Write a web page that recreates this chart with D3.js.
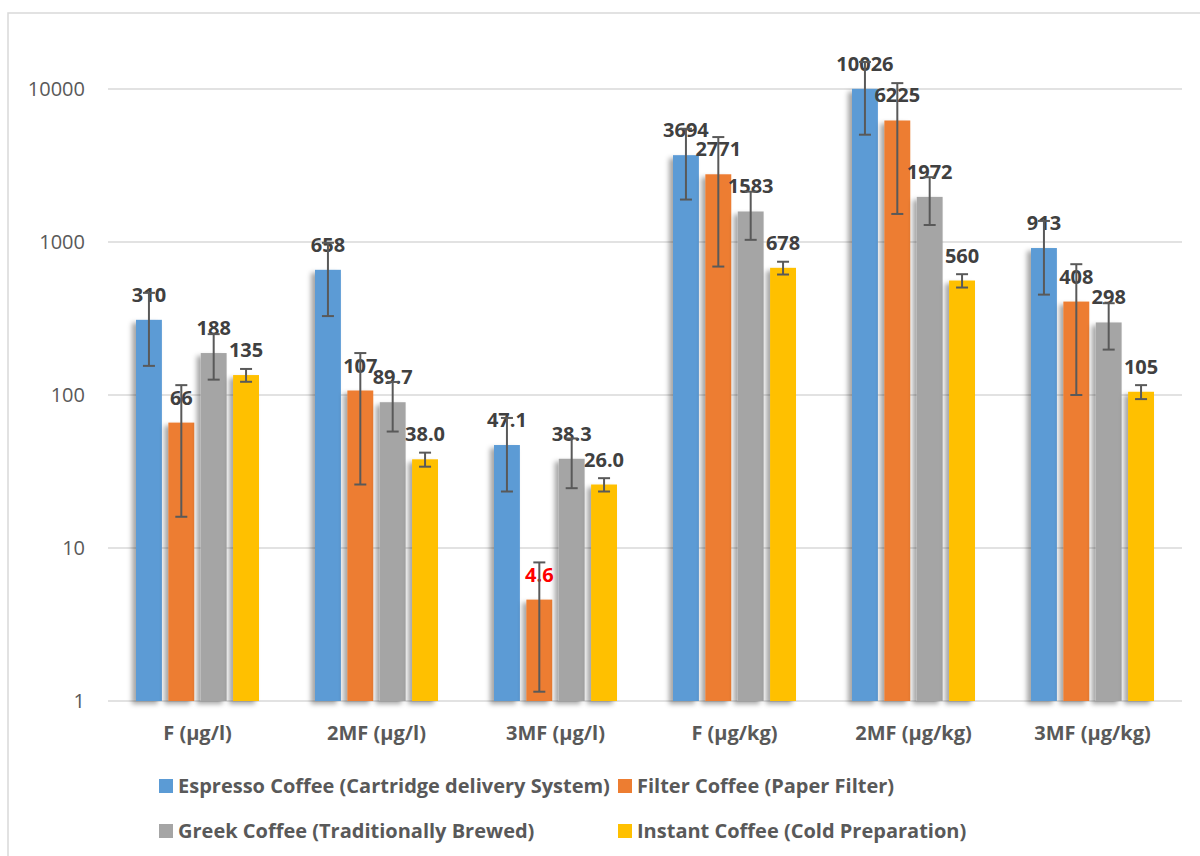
<!DOCTYPE html>
<html>
<head>
<meta charset="utf-8">
<script src="https://cdn.jsdelivr.net/npm/d3@7"></script>
<style>
  html, body { margin: 0; padding: 0; background: #ffffff; }
  svg { display: block; font-family: "Open Sans", "Noto Sans", sans-serif; }
</style>
</head>
<body>
<svg id="chart" width="1200" height="856"></svg>
<script>
// Furan (F), 2-methylfuran (2MF) and 3-methylfuran (3MF) levels per coffee type
const categories = ["F (μg/l)", "2MF (μg/l)", "3MF (μg/l)", "F (μg/kg)", "2MF (μg/kg)", "3MF (μg/kg)"];
const seriesNames = [
  "Espresso Coffee (Cartridge delivery System)",
  "Filter Coffee (Paper Filter)",
  "Greek Coffee (Traditionally Brewed)",
  "Instant Coffee (Cold Preparation)"
];
const espressoValues = [310, 658, 47.1, 3694, 10026, 913];
const filterValues   = [66, 107, 4.6, 2771, 6225, 408];
const greekValues    = [188, 89.7, 38.3, 1583, 1972, 298];
const instantValues  = [135, 38.0, 26.0, 678, 560, 105];
// standard deviations (error bars)
const espressoErrors = [155, 330, 23.7, 1800, 5000, 460];
const filterErrors   = [50, 81, 3.45, 2080, 4700, 308];
const greekErrors    = [62, 32, 13.7, 550, 680, 100];
const instantErrors  = [13, 4, 2.6, 65, 56, 11];
// decimals shown in each value label
const espressoDecimals = [0, 0, 1, 0, 0, 0];
const filterDecimals   = [0, 0, 1, 0, 0, 0];
const greekDecimals    = [0, 1, 1, 0, 0, 0];
const instantDecimals  = [0, 1, 1, 0, 0, 0];
const yTicks = [1, 10, 100, 1000, 10000];

const colors = ["#5b9bd5", "#ed7d31", "#a5a5a5", "#ffc000"];

const series = [
  { name: seriesNames[0], values: espressoValues, errors: espressoErrors, decimals: espressoDecimals },
  { name: seriesNames[1], values: filterValues,   errors: filterErrors,   decimals: filterDecimals },
  { name: seriesNames[2], values: greekValues,    errors: greekErrors,    decimals: greekDecimals },
  { name: seriesNames[3], values: instantValues,  errors: instantErrors,  decimals: instantDecimals }
];

const svg = d3.select("#chart");

// chart area frame
svg.append("rect")
  .attr("x", 8).attr("y", 13)
  .attr("width", 1220).attr("height", 880)
  .attr("fill", "none").attr("stroke", "#d9d9d9").attr("stroke-width", 1.5);

const plot = { left: 108, right: 1182, top: 89, bottom: 701 };

const x0 = d3.scaleBand().domain(categories).range([plot.left, plot.right]).padding(0);
const x1 = d3.scaleBand().domain(d3.range(series.length))
  .range([28, x0.bandwidth() - 28]).paddingInner(0.2).paddingOuter(0);
const y = d3.scaleLog().domain([1, 10000]).range([plot.bottom, plot.top]);

// drop shadow for bars
const defs = svg.append("defs");
const f = defs.append("filter").attr("id", "barShadow")
  .attr("x", "-50%").attr("y", "-10%").attr("width", "200%").attr("height", "130%");
f.append("feDropShadow")
  .attr("dx", -4).attr("dy", 3).attr("stdDeviation", 2.5)
  .attr("flood-color", "#000").attr("flood-opacity", 0.35);

// gridlines
svg.append("g").selectAll("line").data(yTicks).join("line")
  .attr("x1", plot.left).attr("x2", plot.right)
  .attr("y1", d => y(d)).attr("y2", d => y(d))
  .attr("stroke", "#d9d9d9").attr("stroke-width", 1.5);

// y axis labels
const yAxis = d3.axisLeft(y).tickValues(yTicks).tickFormat(d3.format("d")).tickSize(0).tickPadding(0);
const gy = svg.append("g").attr("transform", "translate(85,0)").call(yAxis);
gy.select(".domain").remove();
gy.selectAll("text")
  .attr("font-family", "'Open Sans', sans-serif")
  .attr("font-size", 20).attr("fill", "#595959").attr("dy", "0.34em");

// x axis labels
const xAxis = d3.axisBottom(x0).tickSize(0).tickPadding(0);
const gx = svg.append("g").attr("transform", "translate(0,740)").call(xAxis);
gx.select(".domain").remove();
gx.selectAll("text")
  .attr("font-family", "'Open Sans', sans-serif")
  .attr("font-size", 20).attr("font-weight", "bold").attr("fill", "#595959")
  .attr("dy", 0).attr("y", 0);

// bars
const groups = svg.append("g").selectAll("g")
  .data(categories).join("g")
  .attr("transform", d => `translate(${x0(d)},0)`);

const cells = groups.selectAll("g.cell")
  .data((c, ci) => series.map((s, si) => ({
    si, ci,
    value: s.values[ci], err: s.errors[ci], dec: s.decimals[ci]
  })))
  .join("g").attr("class", "cell");

cells.append("rect")
  .attr("x", d => x1(d.si))
  .attr("width", x1.bandwidth())
  .attr("y", d => y(d.value))
  .attr("height", d => y(1) - y(d.value))
  .attr("fill", d => colors[d.si])
  .attr("filter", "url(#barShadow)");

// value labels
cells.append("text")
  .attr("x", d => x1(d.si) + x1.bandwidth() / 2)
  .attr("y", d => y(d.value) - 18)
  .attr("text-anchor", "middle")
  .attr("font-size", 20).attr("font-weight", "bold")
  .attr("fill", d => (d.si === 1 && d.ci === 2) ? "#ff0000" : "#404040")
  .text(d => d3.format(`.${d.dec}f`)(d.value));

// error bars
const eb = cells.append("g").attr("stroke", "#595959").attr("stroke-width", 2);
const cx = d => x1(d.si) + x1.bandwidth() / 2;
eb.append("line")
  .attr("x1", cx).attr("x2", cx)
  .attr("y1", d => y(d.value + d.err)).attr("y2", d => y(d.value - d.err));
eb.append("line")
  .attr("x1", d => cx(d) - 6).attr("x2", d => cx(d) + 6)
  .attr("y1", d => y(d.value + d.err)).attr("y2", d => y(d.value + d.err));
eb.append("line")
  .attr("x1", d => cx(d) - 6).attr("x2", d => cx(d) + 6)
  .attr("y1", d => y(d.value - d.err)).attr("y2", d => y(d.value - d.err));

// legend (two rows, two columns)
const legendPos = [[159, 779], [618, 779], [159, 824], [618, 824]];
const legend = svg.append("g").selectAll("g").data(series).join("g")
  .attr("transform", (d, i) => `translate(${legendPos[i][0]},${legendPos[i][1]})`);
legend.append("rect").attr("width", 14).attr("height", 14).attr("fill", (d, i) => colors[i]);
legend.append("text")
  .attr("x", 19).attr("y", 14)
  .attr("font-size", 20).attr("font-weight", "bold").attr("fill", "#595959")
  .text(d => d.name);
</script>
</body>
</html>
